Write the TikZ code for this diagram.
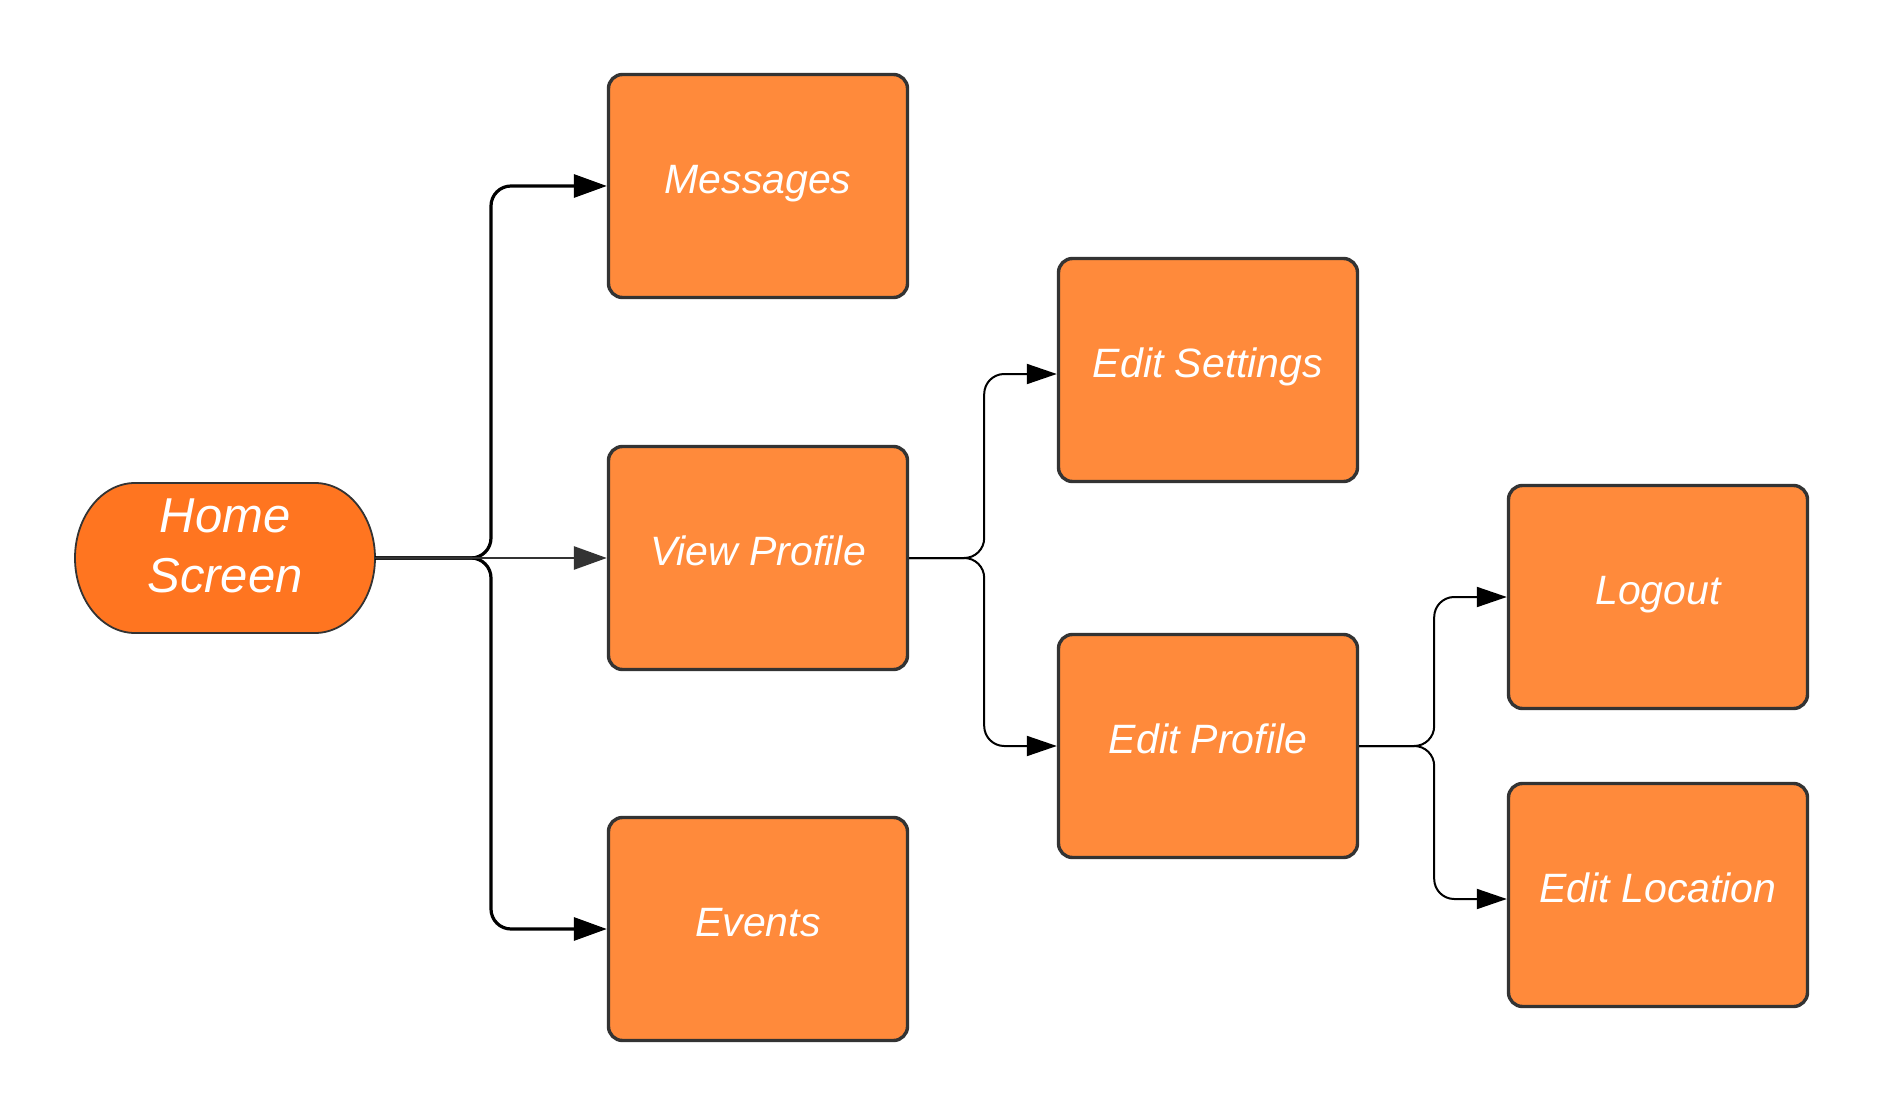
\documentclass[tikz,border=0pt]{standalone}
\usepackage{fontspec}
\setmainfont{Liberation Sans}
\usetikzlibrary{arrows.meta}
\definecolor{boxfill}{HTML}{FF8A3B}
\definecolor{homefill}{HTML}{FF7520}
\definecolor{edge}{HTML}{333333}
\tikzset{
  box/.style={draw=edge, line width=3.4pt, fill=boxfill, rounded corners=14pt,
    minimum width=299pt, minimum height=223pt, inner sep=0pt,
    text height=30pt, text depth=15pt,
    text=white, font=\fontsize{41}{49}\selectfont\itshape},
  hometext/.style={inner sep=0pt, align=center,
    text=white, font=\fontsize{49}{60}\selectfont\itshape},
  connA/.style={draw=black, line width=3.2pt, rounded corners=20pt,
    -{Triangle[length=33pt,width=23pt]}},
  connAmid/.style={draw=edge, line width=2.8pt,
    -{Triangle[length=33pt,width=23pt]}},
  connB/.style={draw=black, line width=2pt, rounded corners=20pt,
    -{Triangle[length=30pt,width=20pt]}},
}
\begin{document}
\begin{tikzpicture}[x=1pt,y=-1pt]
\fill[white] (0,0) rectangle (1883,1118);
\useasboundingbox (0,0) rectangle (1883,1118);
% Home Screen terminator shape
\draw[draw=edge, line width=1.8pt, fill=homefill]
  (135,483) -- (315,483) arc[start angle=90, end angle=-90, x radius=60, y radius=-75]
  -- (135,633) arc[start angle=270, end angle=90, x radius=60, y radius=-75] -- cycle;
\node[hometext] (home) at (225,546) {Home\\Screen};
\node[box] (messages) at (758,186) {Messages};
\node[box] (view) at (758,558) {View Profile};
\node[box] (events) at (758,929) {Events};
\node[box] (settings) at (1208,370) {Edit Settings};
\node[box] (eprofile) at (1208,746) {Edit Profile};
\node[box] (logout) at (1658,597) {Logout};
\node[box] (location) at (1658,895) {Edit Location};
\coordinate (homeout) at (375,558);
% connectors from Home
\draw[connA] (homeout) -- ++(116,0) |- (messages.west);
\draw[connA] (homeout) -- ++(116,0) |- (events.west);
\draw[connAmid] (homeout) -- (view.west);
% connectors from View Profile
\draw[connB] (view.east) -- ++(75,0) |- ([yshift=-4pt]settings.west);
\draw[connB] (view.east) -- ++(75,0) |- (eprofile.west);
% connectors from Edit Profile
\draw[connB] (eprofile.east) -- ++(75,0) |- (logout.west);
\draw[connB] (eprofile.east) -- ++(75,0) |- ([yshift=-4pt]location.west);
\end{tikzpicture}
\end{document}
